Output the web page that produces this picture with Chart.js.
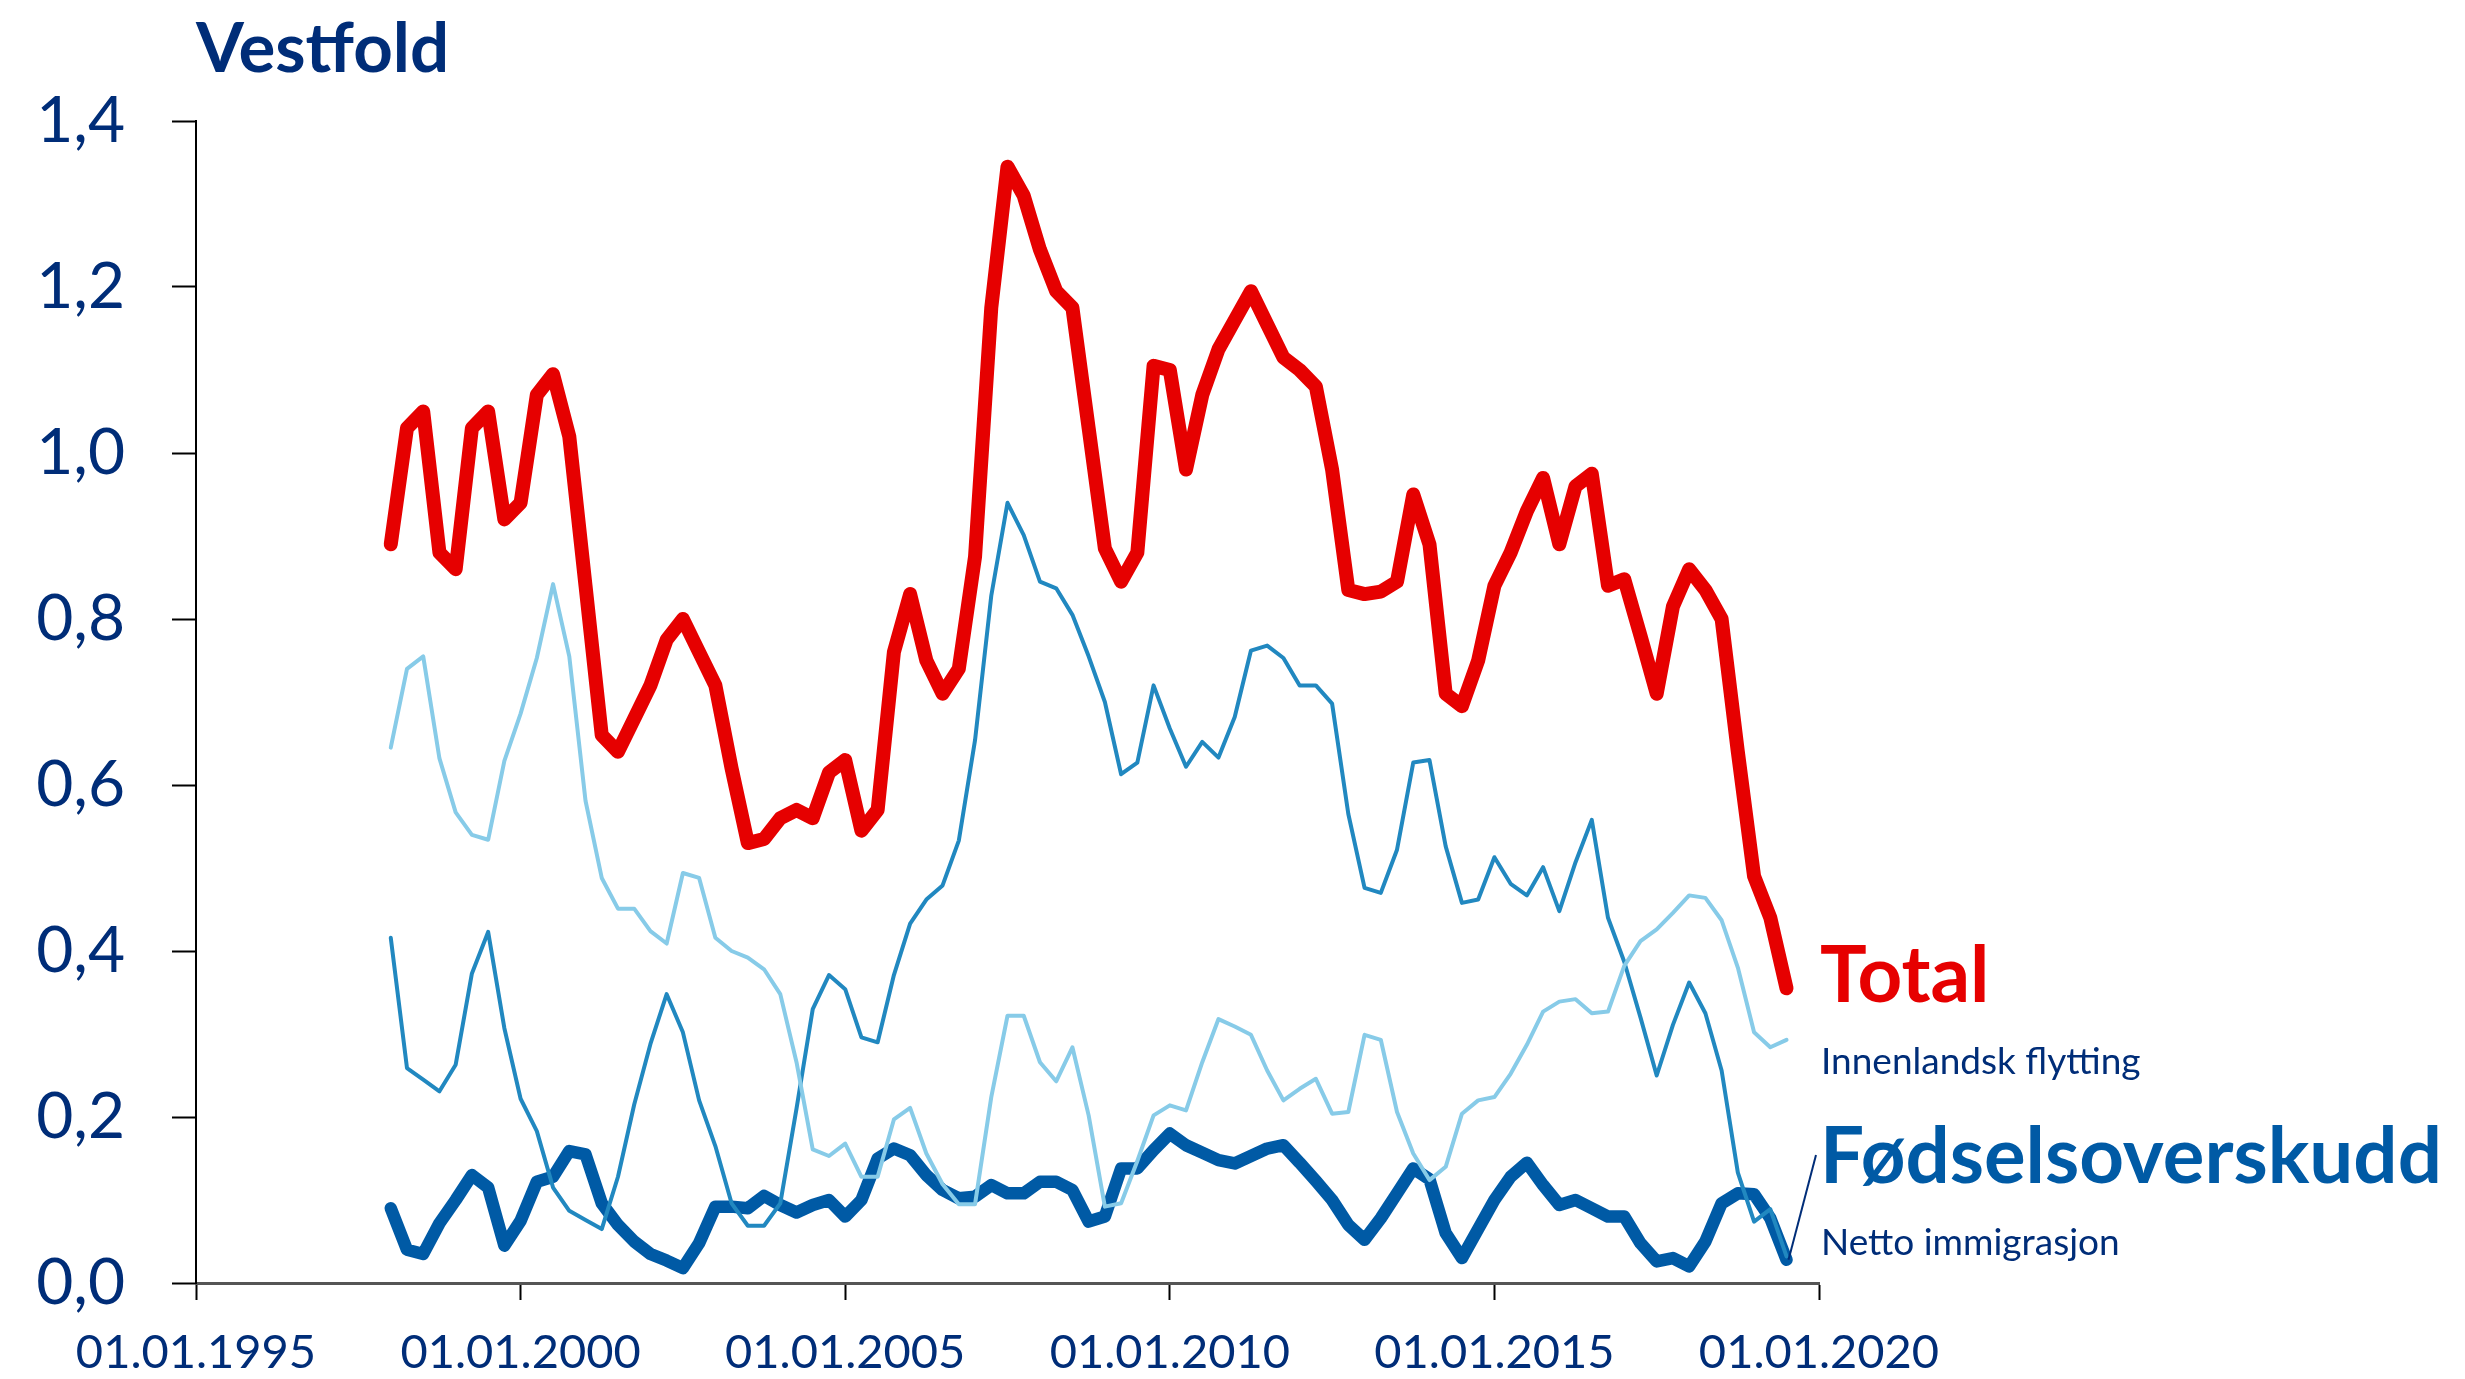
<!DOCTYPE html>
<html>
<head>
<meta charset="utf-8">
<script src="https://cdn.jsdelivr.net/npm/chart.js@4.4.1/dist/chart.umd.min.js"></script>
<style>
  html, body { margin: 0; background: #fff; }
  #wrap { width: 2465px; height: 1379px; }
</style>
</head>
<body>
<div id="wrap"><canvas id="myChart"></canvas></div>
<script>
// quarterly values, first quarter 1998
var firstYear = 1998;
var yearTicks = [1995, 2000, 2005, 2010, 2015, 2020];

var total = [0.89, 1.03, 1.05, 0.88, 0.86, 1.03, 1.05, 0.92, 0.94, 1.07,
  1.095, 1.02, 0.84, 0.66, 0.64, 0.68, 0.72, 0.775, 0.80, 0.76,
  0.72, 0.62, 0.53, 0.535, 0.56, 0.57, 0.56, 0.615, 0.63, 0.545,
  0.57, 0.76, 0.83, 0.75, 0.71, 0.74, 0.875, 1.175, 1.345, 1.31,
  1.245, 1.195, 1.175, 1.03, 0.885, 0.845, 0.88, 1.105, 1.10, 0.98,
  1.07, 1.125, 1.16, 1.195, 1.155, 1.115, 1.10, 1.08, 0.98, 0.835,
  0.83, 0.833, 0.845, 0.95, 0.89, 0.71, 0.695, 0.75, 0.84, 0.88,
  0.93, 0.97, 0.89, 0.96, 0.975, 0.84, 0.848, 0.78, 0.71, 0.815,
  0.86, 0.835, 0.80, 0.64, 0.49, 0.44, 0.355];

var innenlandsk = [0.645, 0.74, 0.755, 0.632, 0.567, 0.54, 0.534, 0.629, 0.686, 0.753,
  0.842, 0.755, 0.581, 0.488, 0.451, 0.451, 0.424, 0.409, 0.494, 0.488,
  0.416, 0.40, 0.392, 0.378, 0.348, 0.266, 0.161, 0.153, 0.168, 0.128,
  0.128, 0.197, 0.211, 0.156, 0.119, 0.095, 0.095, 0.224, 0.322, 0.322,
  0.266, 0.243, 0.284, 0.202, 0.092, 0.096, 0.147, 0.202, 0.214, 0.208,
  0.266, 0.318, 0.309, 0.299, 0.256, 0.22, 0.234, 0.246, 0.204, 0.206,
  0.299, 0.293, 0.206, 0.156, 0.124, 0.14, 0.204, 0.22, 0.224, 0.252,
  0.287, 0.327, 0.339, 0.342, 0.325, 0.327, 0.382, 0.412, 0.426, 0.446,
  0.467, 0.464, 0.437, 0.38, 0.302, 0.284, 0.293];

var netto = [0.416, 0.259, 0.245, 0.231, 0.263, 0.373, 0.423, 0.307, 0.222, 0.183,
  0.115, 0.087, 0.076, 0.065, 0.128, 0.215, 0.288, 0.348, 0.302, 0.22,
  0.165, 0.096, 0.069, 0.069, 0.096, 0.21, 0.33, 0.371, 0.354, 0.296,
  0.29, 0.371, 0.433, 0.462, 0.479, 0.533, 0.654, 0.828, 0.94, 0.901,
  0.845, 0.837, 0.805, 0.755, 0.70, 0.613, 0.627, 0.72, 0.668, 0.622,
  0.652, 0.633, 0.682, 0.762, 0.768, 0.753, 0.72, 0.72, 0.698, 0.565,
  0.476, 0.47, 0.522, 0.627, 0.63, 0.526, 0.458, 0.462, 0.513, 0.481,
  0.467, 0.501, 0.448, 0.507, 0.558, 0.44, 0.387, 0.32, 0.25, 0.311,
  0.362, 0.325, 0.256, 0.133, 0.074, 0.089, 0.032];

var fodsel = [0.09, 0.04, 0.035, 0.072, 0.10, 0.13, 0.115, 0.045, 0.075, 0.122,
  0.128, 0.159, 0.155, 0.096, 0.07, 0.05, 0.035, 0.027, 0.018, 0.048,
  0.092, 0.092, 0.09, 0.105, 0.094, 0.085, 0.094, 0.10, 0.08, 0.10,
  0.15, 0.162, 0.154, 0.13, 0.112, 0.102, 0.104, 0.118, 0.108, 0.108,
  0.122, 0.122, 0.112, 0.074, 0.08, 0.138, 0.138, 0.16, 0.18, 0.166,
  0.157, 0.148, 0.144, 0.153, 0.162, 0.166, 0.145, 0.123, 0.10, 0.07,
  0.052, 0.078, 0.108, 0.138, 0.125, 0.06, 0.03, 0.065, 0.10, 0.128,
  0.145, 0.118, 0.094, 0.10, 0.09, 0.08, 0.08, 0.048, 0.026, 0.03,
  0.02, 0.05, 0.096, 0.108, 0.107, 0.078, 0.028];

var navy = 'rgb(0, 45, 120)';
var red = 'rgb(230, 0, 0)';
var darkBlue = 'rgb(0, 90, 165)';
var midBlue = 'rgb(33, 136, 192)';
var lightBlue = 'rgb(135, 203, 232)';

function points(values) {
  return values.map(function (v, i) { return { x: firstYear + i / 4, y: v } })
}

function line(label, values, color, width) {
  return {
    label: label,
    data: points(values),
    borderColor: color,
    borderWidth: width,
    pointRadius: 0,
    tension: 0,
    borderJoinStyle: 'round',
    borderCapStyle: 'round',
    fill: false
  }
}

// title, end labels and the leader line
var textPlugin = {
  id: 'texts',
  afterDraw: function (chart) {
    var c = chart.ctx;
    c.save();
    c.textBaseline = 'alphabetic';
    c.textAlign = 'left';

    c.fillStyle = navy;
    c.font = 'bold 69px Lato';
    c.fillText('Vestfold', 196, 72);

    c.fillStyle = red;
    c.font = 'bold 78px Lato';
    c.fillText('Total', 1820, 1002);

    c.fillStyle = navy;
    c.font = '37px Lato';
    c.fillText('Innenlandsk flytting', 1821, 1074);

    c.fillStyle = darkBlue;
    c.font = 'bold 78px Lato';
    c.fillText('Fødselsoverskudd', 1820, 1183);

    c.fillStyle = navy;
    c.font = '37px Lato';
    c.fillText('Netto immigrasjon', 1821, 1255);

    var pts = chart.getDatasetMeta(3).data;
    var last = pts[pts.length - 1];
    c.strokeStyle = navy;
    c.lineWidth = 2;
    c.beginPath();
    c.moveTo(last.x + 2, last.y);
    c.lineTo(1816, 1155);
    c.stroke();
    c.restore();
  }
}

var ctx = document.getElementById('myChart').getContext('2d');
var chart = new Chart(ctx, {
  type: 'line',
  data: {
    datasets: [
      line('Total', total, red, 14),
      line('Innenlandsk flytting', innenlandsk, lightBlue, 4),
      line('Netto immigrasjon', netto, midBlue, 4),
      line('Fødselsoverskudd', fodsel, darkBlue, 12.5)
    ]
  },
  options: {
    responsive: true,
    maintainAspectRatio: false,
    animation: false,
    devicePixelRatio: 1,
    layout: { padding: { top: 121, right: 646, left: 0, bottom: 0 } },
    plugins: {
      legend: { display: false },
      tooltip: { enabled: false }
    },
    scales: {
      x: {
        type: 'linear',
        min: 1995,
        max: 2020,
        afterBuildTicks: function (axis) {
          axis.ticks = yearTicks.map(function (y) { return { value: y } })
        },
        afterFit: function (axis) { axis.height = 96 },
        grid: { drawOnChartArea: false, tickLength: 17, tickColor: '#000', tickWidth: 2 },
        border: { color: '#555', width: 3 },
        ticks: {
          color: navy,
          padding: 25,
          maxRotation: 0,
          font: { family: 'Lato', size: 47 },
          callback: function (v) { return '01.01.' + v }
        }
      },
      y: {
        min: 0,
        max: 1.4,
        afterFit: function (axis) { axis.width = 196 },
        grid: { drawOnChartArea: false, tickLength: 24, tickColor: '#000', tickWidth: 2 },
        border: { color: '#000', width: 2 },
        ticks: {
          stepSize: 0.2,
          color: navy,
          padding: 47,
          font: { family: 'Lato', size: 64 },
          callback: function (v) { return v.toFixed(1).replace('.', ',') }
        }
      }
    }
  },
  plugins: [textPlugin]
})
</script>
</body>
</html>
